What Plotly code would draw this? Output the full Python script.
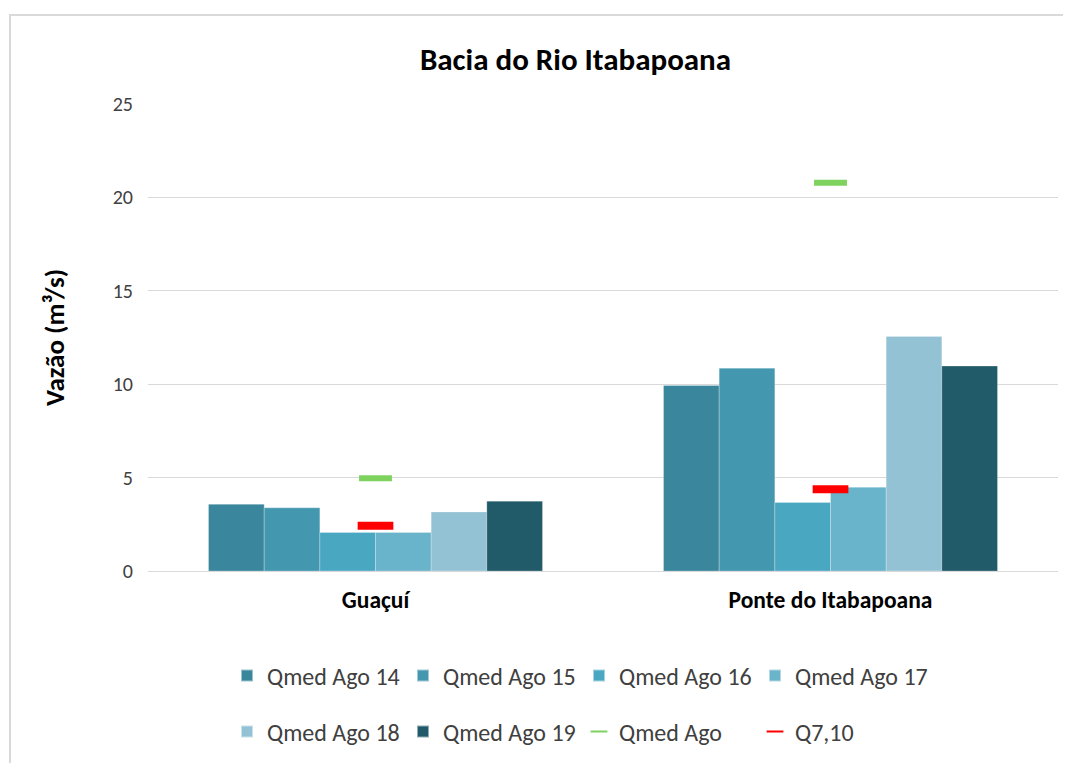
import plotly.graph_objects as go

categories = ["Guaçuí", "Ponte do Itabapoana"]
series_names = ["Qmed Ago 14", "Qmed Ago 15", "Qmed Ago 16", "Qmed Ago 17", "Qmed Ago 18", "Qmed Ago 19"]
qmed_ago_14 = [3.57, 9.93]
qmed_ago_15 = [3.38, 10.86]
qmed_ago_16 = [2.06, 3.67]
qmed_ago_17 = [2.06, 4.48]
qmed_ago_18 = [3.16, 12.55]
qmed_ago_19 = [3.74, 10.97]
qmed_ago = [4.97, 20.78]
q7_10 = [2.42, 4.38]

bar_values = [qmed_ago_14, qmed_ago_15, qmed_ago_16, qmed_ago_17, qmed_ago_18, qmed_ago_19]
bar_colors = ["#3A869C", "#4397AF", "#4AA7C1", "#69B3CB", "#93C2D4", "#215A69"]

FONT = "Carlito, Calibri, Lato, sans-serif"

# page offset of the plot div (body margin)
OFF = 8
W, H = 1071 - OFF, 763 - OFF
L, R, T, B = 148 - OFF, 13, 104 - OFF, 192
pw, ph = W - L - R, H - T - B


def px_x(p):  # page pixel -> paper x
    return (p - OFF - L) / pw


def px_y(p):  # page pixel -> paper y
    return (H - B - (p - OFF)) / ph


fig = go.Figure()
for i, (name, vals, col) in enumerate(zip(series_names, bar_values, bar_colors)):
    fig.add_trace(go.Bar(
        x=categories, y=vals, name=name,
        marker=dict(color=col, line=dict(color="rgba(255,255,255,0.5)", width=0.5)),
        legend="legend" if i < 4 else "legend2",
    ))

fig.add_trace(go.Scatter(
    x=categories, y=qmed_ago, name="Qmed Ago", mode="markers",
    marker=dict(symbol="line-ew", size=23.5, color="#7ED35F",
                line=dict(color="#7ED35F", width=6)),
    legend="legend2",
))
fig.add_trace(go.Scatter(
    x=categories, y=q7_10, name="Q7,10", mode="markers",
    marker=dict(symbol="line-ew", size=25.5, color="#FF0000",
                line=dict(color="#FF0000", width=8)),
    legend="legend2",
))

legend_common = dict(
    orientation="h", xanchor="left", yanchor="middle",
    font=dict(family=FONT, size=24, color="#404040"),
    entrywidth=131, itemwidth=30, bgcolor="rgba(0,0,0,0)",
    traceorder="normal", itemsizing="constant",
)

fig.update_layout(
    width=W, height=H,
    margin=dict(l=L, r=R, t=T, b=B, autoexpand=False),
    paper_bgcolor="white", plot_bgcolor="white",
    barmode="group", bargap=0.266, bargroupgap=0,
    title=dict(text="<b>Bacia do Rio Itabapoana</b>", x=(575.5 - OFF) / W, xanchor="center",
               y=1 - (59 - OFF) / H, yanchor="middle",
               font=dict(family=FONT, size=31, color="#000000")),
    font=dict(family=FONT),
    legend=dict(x=px_x(227), y=px_y(676), **legend_common),
    legend2=dict(x=px_x(227), y=px_y(732), **legend_common),
    xaxis=dict(
        showgrid=False, showline=False, zeroline=False,
        tickfont=dict(family=FONT, size=23.5, color="#000000"),
        ticklabelstandoff=12,
        tickprefix="<b>", ticksuffix="</b>",
    ),
    yaxis=dict(
        range=[0, 25], dtick=5, tick0=0,
        showgrid=True, gridcolor="#D9D9D9", gridwidth=1,
        zeroline=True, zerolinecolor="#D9D9D9", zerolinewidth=1,
        showline=False,
        tickfont=dict(family=FONT, size=20, color="#404040"),
        ticklabelstandoff=14,
        title=dict(text="<b>Vazão (m³/s)</b>", standoff=40,
                   font=dict(family=FONT, size=27, color="#000000")),
        automargin=False,
    ),
    shapes=[dict(
        type="rect", xref="paper", yref="paper",
        x0=px_x(10), x1=px_x(1085), y0=px_y(780), y1=px_y(15),
        line=dict(color="#D9D9D9", width=2), fillcolor="rgba(0,0,0,0)", layer="below",
    )],
)

fig.write_html("out.html")
